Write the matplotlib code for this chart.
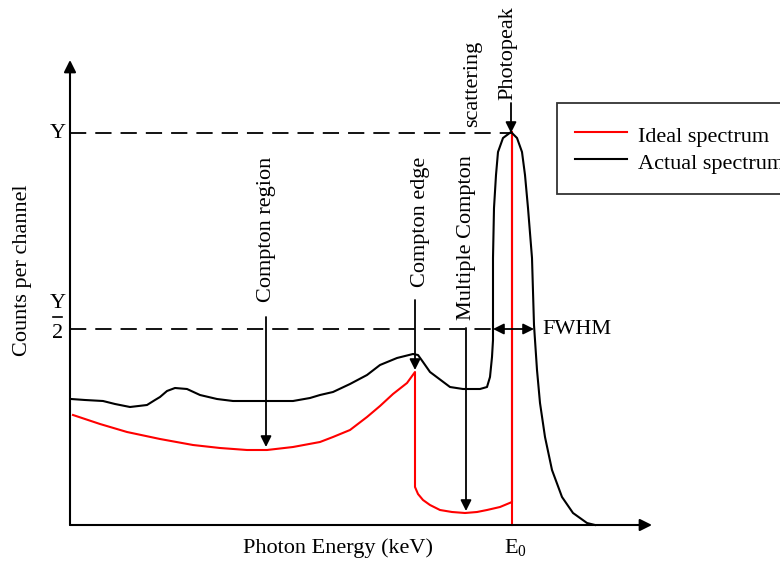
import matplotlib
matplotlib.use("Agg")
import matplotlib.pyplot as plt

plt.rcParams['font.family'] = ['Liberation Serif', 'DejaVu Serif']
plt.rcParams['mathtext.fontset'] = 'custom'
plt.rcParams['mathtext.rm'] = 'Liberation Serif'
plt.rcParams['mathtext.it'] = 'Liberation Serif:italic'

# energy (arbitrary channel units) and counts
actual_x = [1, 15, 33, 45, 60, 77, 85, 90, 97, 105, 117, 130, 147, 163, 190, 223, 240, 250,
            263, 280, 297, 310, 327, 343, 348, 353, 360, 368, 380, 393, 410, 417, 420, 422,
            423, 423, 423, 424, 426, 428, 433, 441, 447, 452, 455, 458, 462, 464, 467, 470,
            475, 482, 492, 503, 517, 525]
actual_y = [126, 125, 124, 121, 118, 120, 125, 128, 134, 137, 136, 130, 126, 124, 124, 124, 127, 130,
            133, 141, 150, 160, 167, 171, 170, 163, 153, 147, 138, 136, 136, 138, 148, 168,
            185, 200, 267, 317, 350, 373, 387, 393, 387, 373, 350, 317, 267, 200, 155, 122,
            88, 55, 28, 12, 2, 0]

ideal_x = [3, 30, 57, 90, 123, 150, 177, 197, 223, 250, 263, 280, 297, 310, 323, 337, 345,
           345, 348, 353, 360, 370, 382, 395, 407, 417, 430, 442, 442, 442]
ideal_y = [110, 101, 93, 86, 80, 77, 75, 75, 78, 83, 88, 95, 108, 119, 131, 142, 153,
           38, 31, 25, 20, 15, 13, 12, 13, 15, 18, 23, 393, 0]

peak_y = 392
half_y = 196
peak_x = 441
fwhm_left = 423
fwhm_right = 464

fig = plt.figure(figsize=(7.8, 5.61), dpi=100)
ax = fig.add_axes([0, 0, 1, 1])
ax.set_xlim(-70, 710)
ax.set_ylim(-36, 525)
ax.axis('off')

# axes with arrow heads
arrow_kw = dict(arrowstyle='-|>', color='black', lw=1.5, mutation_scale=18, shrinkA=0, shrinkB=0)
ax.annotate('', xy=(0, 465), xytext=(0, 0), arrowprops=arrow_kw)
ax.annotate('', xy=(582, 0), xytext=(0, 0), arrowprops=arrow_kw)

# reference levels
ax.plot([0, peak_x], [peak_y, peak_y], color='black', lw=1.3, ls=(0, (9, 5)))
ax.plot([0, fwhm_left], [half_y, half_y], color='black', lw=1.3, ls=(0, (9, 5)))

l1, = ax.plot(ideal_x, ideal_y, color='red', lw=1.5, label='Ideal spectrum')
l2, = ax.plot(actual_x, actual_y, color='black', lw=1.5, label='Actual spectrum')

# pointer arrows
ptr = dict(arrowstyle='-|>', color='black', lw=1.3, mutation_scale=16, shrinkA=0, shrinkB=0)
ax.annotate('', xy=(196, 78), xytext=(196, 208), arrowprops=ptr)
ax.annotate('', xy=(345, 155), xytext=(345, 225), arrowprops=ptr)
ax.annotate('', xy=(396, 14), xytext=(396, 197), arrowprops=ptr)
ax.annotate('', xy=(peak_x, peak_y), xytext=(peak_x, 422), arrowprops=ptr)
ax.annotate('', xy=(fwhm_left, half_y), xytext=(fwhm_right, half_y),
            arrowprops=dict(arrowstyle='<|-|>', color='black', lw=1.3, mutation_scale=16,
                            shrinkA=0, shrinkB=0))

fs = 16
ax.text(196, 223, 'Compton region', rotation=90, ha='center', va='bottom', fontsize=fs)
ax.text(350, 238, 'Compton edge', rotation=90, ha='center', va='bottom', fontsize=fs)
ax.text(397, 205, 'Multiple Compton', rotation=90, ha='center', va='bottom', fontsize=fs)
ax.text(403, 398, 'scattering', rotation=90, ha='center', va='bottom', fontsize=fs)
ax.text(438, 425, 'Photopeak', rotation=90, ha='center', va='bottom', fontsize=fs)
ax.text(472, half_y, 'FWHM', ha='left', va='center', fontsize=fs)

ax.text(-12, peak_y, 'Y', ha='center', va='center', fontsize=fs)
ax.text(-12, 222, 'Y', ha='center', va='center', fontsize=fs)
ax.plot([-17, -8], [208, 208], color='black', lw=1.2)
ax.text(-12, 191, '2', ha='center', va='center', fontsize=fs)
ax.text(-47, 255, 'Counts per channel', rotation=90, ha='center', va='center', fontsize=fs)
ax.text(268, -23, 'Photon Energy (keV)', ha='center', va='center', fontsize=fs)
ax.text(445, -23, r'E$_\mathregular{0}$', ha='center', va='center', fontsize=fs)

# legend box runs past the right edge, as in the original figure
leg = fig.legend(handles=[l1, l2], loc='upper left', bbox_to_anchor=(557 / 780, 1 - 103 / 561),
                 fontsize=fs, frameon=True, fancybox=False, edgecolor='black',
                 handlelength=2.3, handleheight=1.45, handletextpad=0.5, labelspacing=0.04,
                 borderpad=0.83, borderaxespad=0)
leg.get_frame().set_linewidth(1.3)

plt.savefig('out.png', dpi=100)
